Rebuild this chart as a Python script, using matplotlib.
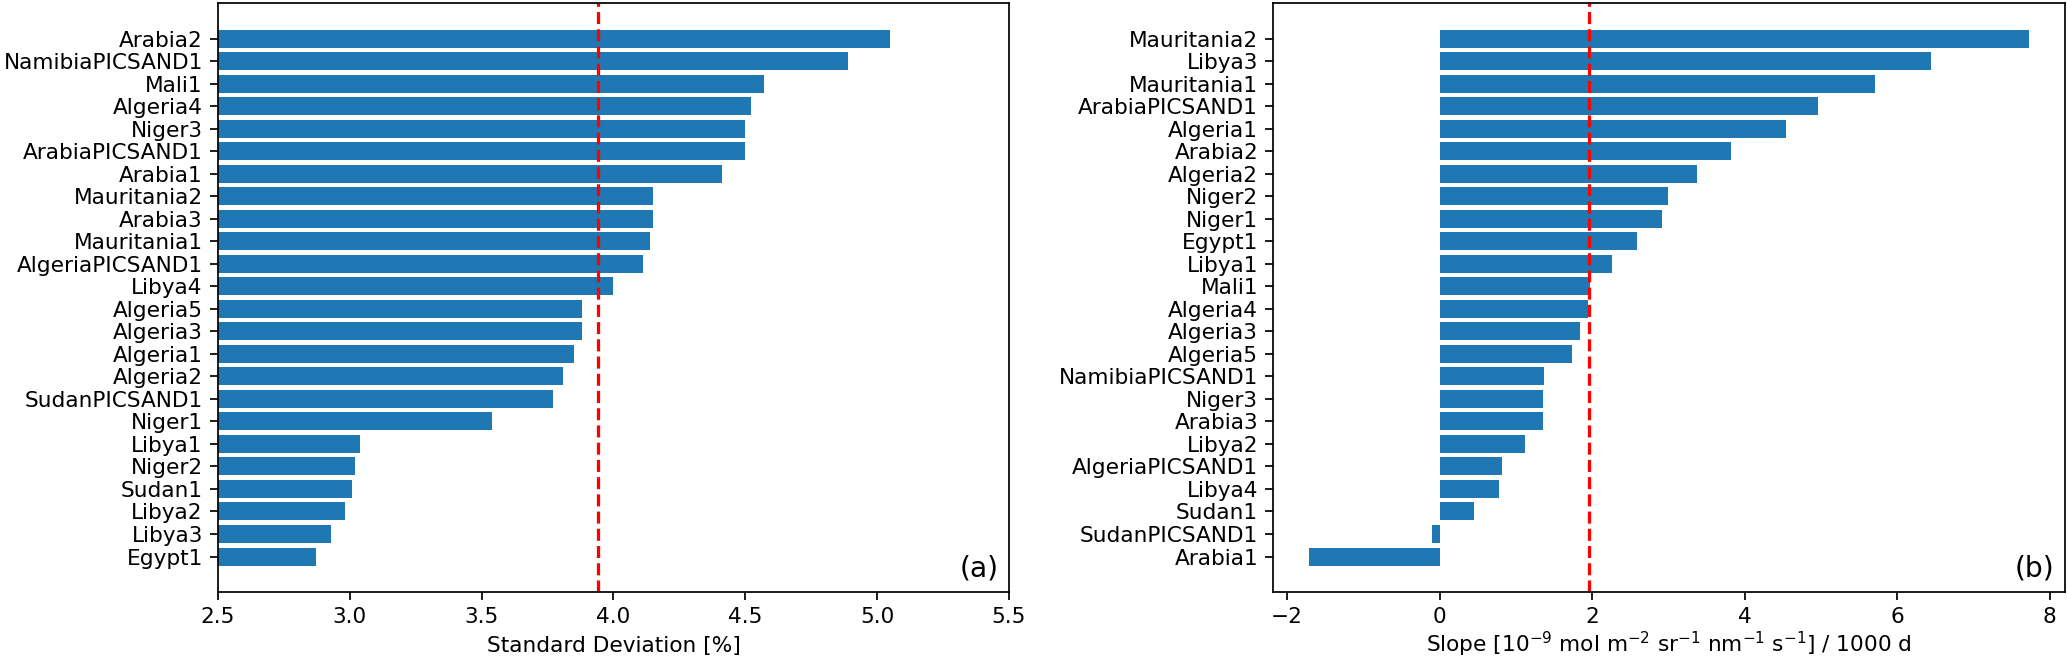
import matplotlib
matplotlib.use("Agg")
import matplotlib.pyplot as plt

# Panel (a): standard deviation, listed top to bottom
sd_sites = ["Arabia2", "NamibiaPICSAND1", "Mali1", "Algeria4", "Niger3",
            "ArabiaPICSAND1", "Arabia1", "Mauritania2", "Arabia3", "Mauritania1",
            "AlgeriaPICSAND1", "Libya4", "Algeria5", "Algeria3", "Algeria1",
            "Algeria2", "SudanPICSAND1", "Niger1", "Libya1", "Niger2",
            "Sudan1", "Libya2", "Libya3", "Egypt1"]
sd_values = [5.05, 4.89, 4.57, 4.52, 4.50, 4.50, 4.41, 4.15, 4.15, 4.14,
             4.11, 4.00, 3.88, 3.88, 3.85, 3.81, 3.77, 3.54, 3.04, 3.02,
             3.01, 2.98, 2.93, 2.87]
sd_ref = 3.94

# Panel (b): slope, listed top to bottom
slope_sites = ["Mauritania2", "Libya3", "Mauritania1", "ArabiaPICSAND1", "Algeria1",
               "Arabia2", "Algeria2", "Niger2", "Niger1", "Egypt1",
               "Libya1", "Mali1", "Algeria4", "Algeria3", "Algeria5",
               "NamibiaPICSAND1", "Niger3", "Arabia3", "Libya2", "AlgeriaPICSAND1",
               "Libya4", "Sudan1", "SudanPICSAND1", "Arabia1"]
slope_values = [7.73, 6.44, 5.71, 4.96, 4.54, 3.82, 3.38, 2.99, 2.91, 2.59,
                2.26, 1.97, 1.94, 1.84, 1.73, 1.37, 1.35, 1.35, 1.12, 0.82,
                0.78, 0.455, -0.10, -1.71]
slope_ref = 1.955

W, H, DPI = 2067, 660, 156
fig = plt.figure(figsize=(W / DPI, H / DPI), dpi=DPI)

ax1 = fig.add_axes([218 / W, 1 - 592.3 / H, 791 / W, 589.3 / H])
ax2 = fig.add_axes([1273.3 / W, 1 - 592.3 / H, 791.7 / W, 589.3 / H])

ax1.barh(sd_sites[::-1], sd_values[::-1], color="#1f77b4")
ax1.axvline(sd_ref, color="red", linestyle="--", linewidth=1.5)
ax1.set_xlim(2.5, 5.5)
ax1.set_xlabel("Standard Deviation [%]")
ax1.text(0.987, 0.017, "(a)", transform=ax1.transAxes, ha="right", va="bottom",
         fontsize=13)

ax2.barh(slope_sites[::-1], slope_values[::-1], color="#1f77b4")
ax2.axvline(slope_ref, color="red", linestyle="--", linewidth=1.5)
ax2.set_xticks([-2, 0, 2, 4, 6, 8])
ax2.set_xlabel(r"Slope [10$^{-9}$ mol m$^{-2}$ sr$^{-1}$ nm$^{-1}$ s$^{-1}$] / 1000 d",
               labelpad=1.0)
ax2.text(0.986, 0.017, "(b)", transform=ax2.transAxes, ha="right", va="bottom",
         fontsize=13)

fig.savefig("out.png", dpi=DPI)
